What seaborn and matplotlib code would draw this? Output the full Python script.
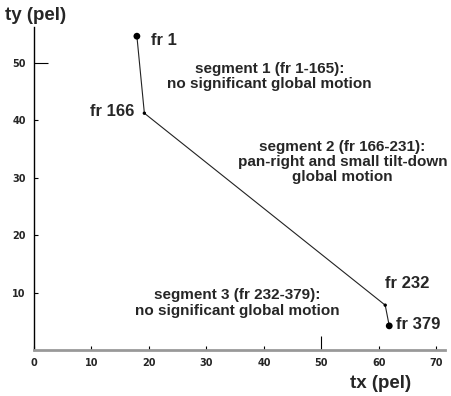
import matplotlib
matplotlib.use("Agg")
import matplotlib.pyplot as plt
import seaborn as sns
import pandas as pd

# data
frames = ["fr 1", "fr 166", "fr 232", "fr 379"]
tx = [17.9, 19.2, 61.1, 61.8]
ty = [54.6, 41.2, 7.8, 4.2]
x_ticks = [0, 10, 20, 30, 40, 50, 60, 70]
y_ticks = [10, 20, 30, 40, 50]
seg_texts = [
    "segment 1 (fr 1-165):\nno significant global motion",
    "segment 2 (fr 166-231):\npan-right and small tilt-down\nglobal motion",
    "segment 3 (fr 232-379):\nno significant global motion",
]

sns.set_style("ticks")
plt.rcParams['font.family'] = ['Liberation Sans', 'DejaVu Sans']

df = pd.DataFrame({"tx": tx, "ty": ty, "frame": frames})

fig = plt.figure(figsize=(4.51, 3.96), dpi=100)
ax = fig.add_axes([34/451, 1-350/396, (445-34)/451, (350-27)/396])

sns.lineplot(data=df, x="tx", y="ty", sort=False, color="#222222", lw=0.8, ax=ax, estimator=None)
big = df.iloc[[0, 3]]
small = df.iloc[[1, 2]]
sns.scatterplot(data=big, x="tx", y="ty", color="black", s=24, edgecolor="none", ax=ax, zorder=3)
sns.scatterplot(data=small, x="tx", y="ty", color="black", s=6, edgecolor="none", ax=ax, zorder=3)

ax.set_xlim(0, 71.5)
ax.set_ylim(0, 56.2)
ax.set_xticks(x_ticks)
ax.set_yticks(y_ticks)
ax.set_xticklabels([str(v) for v in x_ticks], fontsize=7, fontweight="bold", family="DejaVu Sans")
ax.set_yticklabels([str(v) for v in y_ticks], fontsize=7, fontweight="bold", family="DejaVu Sans")
ax.tick_params(axis="both", direction="in", length=3, width=0.8, color="black", pad=6,
               bottom=True, left=True)
# longer tick at 50
for t in ax.xaxis.get_major_ticks():
    if t.get_loc() == 50:
        t.tick1line.set_markersize(10)
for t in ax.yaxis.get_major_ticks():
    if t.get_loc() == 50:
        t.tick1line.set_markersize(10)
        t.tick1line.set_color("#777777")

for s in ["top", "right"]:
    ax.spines[s].set_visible(False)
ax.spines["left"].set_color("black")
ax.spines["left"].set_linewidth(1.0)
ax.spines["bottom"].set_color("#999999")
ax.spines["bottom"].set_linewidth(2.0)
ax.set_xlabel("")
ax.set_ylabel("")

fs = 11
ffs = 12
fig.text(5/451, 1-16/396, "ty (pel)", fontsize=13.5, fontweight="bold", va="center", ha="left")
fig.text(350/451, 1-383/396, "tx (pel)", fontsize=13.5, fontweight="bold", va="center", ha="left")

ax.annotate(frames[0], (tx[0], ty[0]), xytext=(10, -3), textcoords="offset points",
            fontsize=ffs, fontweight="bold", va="center", ha="left")
ax.annotate(frames[1], (tx[1], ty[1]), xytext=(-7, 1), textcoords="offset points",
            fontsize=ffs, fontweight="bold", va="center", ha="right")
ax.annotate(frames[2], (tx[2], ty[2]), xytext=(0, 15.5), textcoords="offset points",
            fontsize=ffs, fontweight="bold", va="center", ha="left")
ax.annotate(frames[3], (tx[3], ty[3]), xytext=(5, 1), textcoords="offset points",
            fontsize=ffs, fontweight="bold", va="center", ha="left")

ax.text((269-34)/5.74, (350-76)/5.75, seg_texts[0], fontsize=fs, fontweight="bold",
        ha="center", va="center", linespacing=1.1)
ax.text((342-34)/5.74, (350-162)/5.75, seg_texts[1], fontsize=fs, fontweight="bold",
        ha="center", va="center", linespacing=1.1)
ax.text((237-34)/5.74, (350-303)/5.75, seg_texts[2], fontsize=fs, fontweight="bold",
        ha="center", va="center", linespacing=1.1)

fig.savefig("out.png", dpi=100)
